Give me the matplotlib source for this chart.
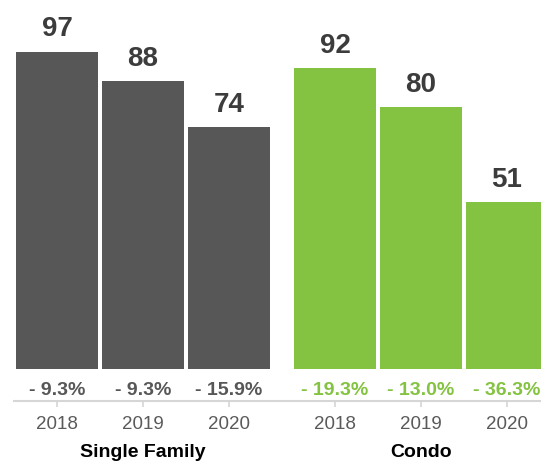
import matplotlib.pyplot as plt
import matplotlib.transforms as mtransforms
import numpy as np

# data
years = ['2018', '2019', '2020']
groups = ['Single Family', 'Condo']
single_family = [97, 88, 74]
condo = [92, 80, 51]
sf_change = ['- 9.3%', '- 9.3%', '- 15.9%']
condo_change = ['- 19.3%', '- 13.0%', '- 36.3%']

gray = '#575757'
green = '#84c241'
label_dark = '#3c3c3c'

plt.rcParams['font.family'] = ['Liberation Sans', 'DejaVu Sans']

fig = plt.figure(figsize=(5.41, 4.67), dpi=100)
ax = fig.add_axes([14 / 541, 66 / 467, 527 / 541, 401 / 467])

group_gap = 1.233
x_sf = np.arange(len(years))
x_co = np.arange(len(years)) + len(years) - 1 + group_gap

width = 0.953
ax.bar(x_sf, single_family, width=width, color=gray)
ax.bar(x_co, condo, width=width, color=green)

for xs, vals, chg, col in [(x_sf, single_family, sf_change, gray),
                           (x_co, condo, condo_change, green)]:
    for x, v, c in zip(xs, vals, chg):
        ax.annotate(str(v), (x, v), xytext=(0, 11), textcoords='offset points',
                    ha='center', va='baseline', fontsize=20, fontweight='bold',
                    color=label_dark)
        ax.text(x, -7.9, c, ha='center', va='baseline', fontsize=14,
                fontweight='bold', color=col)

ax.set_xlim(-0.5, 5.628)
ax.set_ylim(-9.8, 112.8)

for s in ['top', 'right', 'left']:
    ax.spines[s].set_visible(False)
ax.spines['bottom'].set_color('#d6d6d6')
ax.spines['bottom'].set_linewidth(1.5)
ax.set_yticks([])
ax.set_xticks(np.concatenate([x_sf, x_co]))
ax.set_xticklabels(years + years)
ax.tick_params(axis='x', length=4, width=1.2, color='#d6d6d6', pad=7,
               labelsize=13.5, labelcolor='#5a5a5a')

# group names under the year labels
trans = mtransforms.blended_transform_factory(ax.transData, fig.transFigure)
for xs, g in zip([x_sf, x_co], groups):
    ax.text(xs[1], 0.021, g, transform=trans, ha='center', va='baseline',
            fontsize=14, fontweight='bold', color='black', clip_on=False)

fig.savefig('out.png', dpi=100)
